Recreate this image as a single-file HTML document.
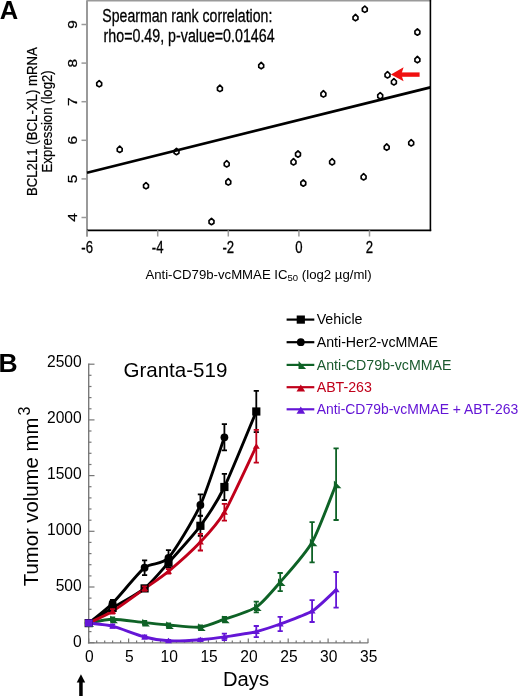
<!DOCTYPE html>
<html><head><meta charset="utf-8"><style>
html,body{margin:0;padding:0;background:#fff;}
svg{display:block;will-change:transform;font-family:'Liberation Sans', sans-serif;}
.pa{stroke:#000;stroke-width:0.3px;}
.pb{stroke:#000;stroke-width:0.2px;}
</style></head><body>
<svg width="520" height="696" viewBox="0 0 520 696">
<rect width="520" height="696" fill="#fff"/>
<line x1="87.0" y1="0.2" x2="87.0" y2="236.5" stroke="#9a9a9a" stroke-width="2"/>
<line x1="87.0" y1="0.8" x2="431.09999999999997" y2="0.8" stroke="#9a9a9a" stroke-width="1.6"/>
<line x1="430.4" y1="0" x2="430.4" y2="231.10000000000002" stroke="#000" stroke-width="1.6"/>
<line x1="87.0" y1="230.3" x2="431.2" y2="230.3" stroke="#000" stroke-width="1.8"/>
<line x1="81.5" y1="217.5" x2="87.0" y2="217.5" stroke="#9a9a9a" stroke-width="1.5"/>
<text transform="translate(76.5,217.5) scale(0.86,1) rotate(-90)" font-size="15.5" text-anchor="middle" class="pa">4</text>
<line x1="81.5" y1="178.9" x2="87.0" y2="178.9" stroke="#9a9a9a" stroke-width="1.5"/>
<text transform="translate(76.5,178.9) scale(0.86,1) rotate(-90)" font-size="15.5" text-anchor="middle" class="pa">5</text>
<line x1="81.5" y1="140.3" x2="87.0" y2="140.3" stroke="#9a9a9a" stroke-width="1.5"/>
<text transform="translate(76.5,140.3) scale(0.86,1) rotate(-90)" font-size="15.5" text-anchor="middle" class="pa">6</text>
<line x1="81.5" y1="101.7" x2="87.0" y2="101.7" stroke="#9a9a9a" stroke-width="1.5"/>
<text transform="translate(76.5,101.7) scale(0.86,1) rotate(-90)" font-size="15.5" text-anchor="middle" class="pa">7</text>
<line x1="81.5" y1="63.1" x2="87.0" y2="63.1" stroke="#9a9a9a" stroke-width="1.5"/>
<text transform="translate(76.5,63.1) scale(0.86,1) rotate(-90)" font-size="15.5" text-anchor="middle" class="pa">8</text>
<line x1="81.5" y1="24.5" x2="87.0" y2="24.5" stroke="#9a9a9a" stroke-width="1.5"/>
<text transform="translate(76.5,24.5) scale(0.86,1) rotate(-90)" font-size="15.5" text-anchor="middle" class="pa">9</text>
<line x1="87.1" y1="230.3" x2="87.1" y2="236.5" stroke="#9a9a9a" stroke-width="1.5"/>
<text transform="translate(87.1,252.6) scale(0.82,1)" font-size="16" text-anchor="middle" class="pa">-6</text>
<line x1="157.7" y1="230.3" x2="157.7" y2="236.5" stroke="#9a9a9a" stroke-width="1.5"/>
<text transform="translate(157.7,252.6) scale(0.82,1)" font-size="16" text-anchor="middle" class="pa">-4</text>
<line x1="228.3" y1="230.3" x2="228.3" y2="236.5" stroke="#9a9a9a" stroke-width="1.5"/>
<text transform="translate(228.3,252.6) scale(0.82,1)" font-size="16" text-anchor="middle" class="pa">-2</text>
<line x1="298.9" y1="230.3" x2="298.9" y2="236.5" stroke="#9a9a9a" stroke-width="1.5"/>
<text transform="translate(298.9,252.6) scale(0.82,1)" font-size="16" text-anchor="middle" class="pa">0</text>
<line x1="369.5" y1="230.3" x2="369.5" y2="236.5" stroke="#9a9a9a" stroke-width="1.5"/>
<text transform="translate(369.5,252.6) scale(0.82,1)" font-size="16" text-anchor="middle" class="pa">2</text>
<line x1="87" y1="172.7" x2="430.4" y2="87.4" stroke="#000" stroke-width="2.7"/>
<path d="M99.2,80.5 L101.7,82.9 L101.6,85.5 L99.2,86.9 L96.8,85.5 L96.7,82.9 Z" fill="none" stroke="#000" stroke-width="1.65" stroke-linejoin="round"/>
<path d="M119.7,146.1 L122.2,148.5 L122.1,151.1 L119.7,152.5 L117.3,151.1 L117.2,148.5 Z" fill="none" stroke="#000" stroke-width="1.65" stroke-linejoin="round"/>
<path d="M176.5,148.3 L179.0,150.7 L178.9,153.3 L176.5,154.7 L174.1,153.3 L174.0,150.7 Z" fill="none" stroke="#000" stroke-width="1.65" stroke-linejoin="round"/>
<path d="M146.0,182.5 L148.5,184.9 L148.4,187.5 L146.0,188.9 L143.6,187.5 L143.5,184.9 Z" fill="none" stroke="#000" stroke-width="1.65" stroke-linejoin="round"/>
<path d="M261.2,62.4 L263.7,64.8 L263.6,67.4 L261.2,68.8 L258.8,67.4 L258.7,64.8 Z" fill="none" stroke="#000" stroke-width="1.65" stroke-linejoin="round"/>
<path d="M219.9,85.2 L222.4,87.6 L222.3,90.2 L219.9,91.6 L217.5,90.2 L217.4,87.6 Z" fill="none" stroke="#000" stroke-width="1.65" stroke-linejoin="round"/>
<path d="M226.7,160.6 L229.2,163.0 L229.1,165.6 L226.7,167.0 L224.3,165.6 L224.2,163.0 Z" fill="none" stroke="#000" stroke-width="1.65" stroke-linejoin="round"/>
<path d="M228.3,178.7 L230.8,181.1 L230.7,183.7 L228.3,185.1 L225.9,183.7 L225.8,181.1 Z" fill="none" stroke="#000" stroke-width="1.65" stroke-linejoin="round"/>
<path d="M211.5,218.3 L214.0,220.7 L213.9,223.3 L211.5,224.7 L209.1,223.3 L209.0,220.7 Z" fill="none" stroke="#000" stroke-width="1.65" stroke-linejoin="round"/>
<path d="M293.5,158.6 L296.0,161.0 L295.9,163.6 L293.5,165.0 L291.1,163.6 L291.0,161.0 Z" fill="none" stroke="#000" stroke-width="1.65" stroke-linejoin="round"/>
<path d="M298.0,150.8 L300.5,153.2 L300.4,155.8 L298.0,157.2 L295.6,155.8 L295.5,153.2 Z" fill="none" stroke="#000" stroke-width="1.65" stroke-linejoin="round"/>
<path d="M303.3,179.8 L305.8,182.2 L305.7,184.8 L303.3,186.2 L300.9,184.8 L300.8,182.2 Z" fill="none" stroke="#000" stroke-width="1.65" stroke-linejoin="round"/>
<path d="M332.1,158.6 L334.6,161.0 L334.5,163.6 L332.1,165.0 L329.7,163.6 L329.6,161.0 Z" fill="none" stroke="#000" stroke-width="1.65" stroke-linejoin="round"/>
<path d="M363.6,173.6 L366.1,176.0 L366.0,178.6 L363.6,180.0 L361.2,178.6 L361.1,176.0 Z" fill="none" stroke="#000" stroke-width="1.65" stroke-linejoin="round"/>
<path d="M386.7,143.9 L389.2,146.3 L389.1,148.9 L386.7,150.3 L384.3,148.9 L384.2,146.3 Z" fill="none" stroke="#000" stroke-width="1.65" stroke-linejoin="round"/>
<path d="M411.2,139.6 L413.7,142.0 L413.6,144.6 L411.2,146.0 L408.8,144.6 L408.7,142.0 Z" fill="none" stroke="#000" stroke-width="1.65" stroke-linejoin="round"/>
<path d="M364.8,6.0 L367.3,8.4 L367.2,11.0 L364.8,12.4 L362.4,11.0 L362.3,8.4 Z" fill="none" stroke="#000" stroke-width="1.65" stroke-linejoin="round"/>
<path d="M355.5,14.4 L358.0,16.8 L357.9,19.4 L355.5,20.8 L353.1,19.4 L353.0,16.8 Z" fill="none" stroke="#000" stroke-width="1.65" stroke-linejoin="round"/>
<path d="M417.4,28.8 L419.9,31.2 L419.8,33.8 L417.4,35.2 L415.0,33.8 L414.9,31.2 Z" fill="none" stroke="#000" stroke-width="1.65" stroke-linejoin="round"/>
<path d="M417.4,56.4 L419.9,58.8 L419.8,61.4 L417.4,62.8 L415.0,61.4 L414.9,58.8 Z" fill="none" stroke="#000" stroke-width="1.65" stroke-linejoin="round"/>
<path d="M387.5,71.6 L390.0,74.0 L389.9,76.6 L387.5,78.0 L385.1,76.6 L385.0,74.0 Z" fill="none" stroke="#000" stroke-width="1.65" stroke-linejoin="round"/>
<path d="M393.9,78.6 L396.4,81.0 L396.3,83.6 L393.9,85.0 L391.5,83.6 L391.4,81.0 Z" fill="none" stroke="#000" stroke-width="1.65" stroke-linejoin="round"/>
<path d="M323.4,90.7 L325.9,93.1 L325.8,95.7 L323.4,97.1 L321.0,95.7 L320.9,93.1 Z" fill="none" stroke="#000" stroke-width="1.65" stroke-linejoin="round"/>
<path d="M380.2,92.5 L382.7,94.9 L382.6,97.5 L380.2,98.9 L377.8,97.5 L377.7,94.9 Z" fill="none" stroke="#000" stroke-width="1.65" stroke-linejoin="round"/>
<line x1="400" y1="74.6" x2="419.6" y2="74.6" stroke="#f01010" stroke-width="4.4"/>
<path d="M390.9,74.5 L403.6,67.3 L401.2,74.5 L403.6,81.3 Z" fill="#f01010"/>
<text x="102.3" y="21.9" font-size="18" text-anchor="start" fill="#000" font-weight="normal" textLength="170" lengthAdjust="spacingAndGlyphs" class="pa">Spearman rank correlation:</text>
<text x="103.6" y="41.9" font-size="18" text-anchor="start" fill="#000" font-weight="normal" textLength="171" lengthAdjust="spacingAndGlyphs" class="pa">rho=0.49, p-value=0.01464</text>
<text x="-0.3" y="19.0" font-size="25.5" text-anchor="start" fill="#000" font-weight="bold">A</text>
<text transform="translate(36.7,121.6) rotate(-90)" font-size="14" text-anchor="middle" textLength="149" lengthAdjust="spacingAndGlyphs" class="pb">BCL2L1 (BCL-XL) mRNA</text>
<text transform="translate(51.9,121.4) rotate(-90)" font-size="14" text-anchor="middle" textLength="102" lengthAdjust="spacingAndGlyphs" class="pb">Expression (log2)</text>
<text x="145.4" y="279" font-size="13.2">Anti-CD79b-vcMMAE IC<tspan font-size="9.5" dy="2.2">50</tspan><tspan dy="-2.2"> (log2 µg/ml)</tspan></text>
<line x1="88.7" y1="363.5" x2="88.7" y2="643.6" stroke="#767676" stroke-width="1.35"/>
<line x1="88.7" y1="642.7" x2="94.5" y2="642.7" stroke="#767676" stroke-width="1.2"/>
<text x="81.7" y="647.1" font-size="15.6" text-anchor="end">0</text>
<line x1="88.7" y1="631.6" x2="91.5" y2="631.6" stroke="#767676" stroke-width="1.2"/>
<line x1="88.7" y1="620.4" x2="91.5" y2="620.4" stroke="#767676" stroke-width="1.2"/>
<line x1="88.7" y1="609.3" x2="91.5" y2="609.3" stroke="#767676" stroke-width="1.2"/>
<line x1="88.7" y1="598.1" x2="91.5" y2="598.1" stroke="#767676" stroke-width="1.2"/>
<line x1="88.7" y1="587.0" x2="94.5" y2="587.0" stroke="#767676" stroke-width="1.2"/>
<text x="81.7" y="591.0" font-size="15.6" text-anchor="end">500</text>
<line x1="88.7" y1="575.9" x2="91.5" y2="575.9" stroke="#767676" stroke-width="1.2"/>
<line x1="88.7" y1="564.7" x2="91.5" y2="564.7" stroke="#767676" stroke-width="1.2"/>
<line x1="88.7" y1="553.6" x2="91.5" y2="553.6" stroke="#767676" stroke-width="1.2"/>
<line x1="88.7" y1="542.4" x2="91.5" y2="542.4" stroke="#767676" stroke-width="1.2"/>
<line x1="88.7" y1="531.3" x2="94.5" y2="531.3" stroke="#767676" stroke-width="1.2"/>
<text x="81.7" y="534.9" font-size="15.6" text-anchor="end">1000</text>
<line x1="88.7" y1="520.2" x2="91.5" y2="520.2" stroke="#767676" stroke-width="1.2"/>
<line x1="88.7" y1="509.0" x2="91.5" y2="509.0" stroke="#767676" stroke-width="1.2"/>
<line x1="88.7" y1="497.9" x2="91.5" y2="497.9" stroke="#767676" stroke-width="1.2"/>
<line x1="88.7" y1="486.7" x2="91.5" y2="486.7" stroke="#767676" stroke-width="1.2"/>
<line x1="88.7" y1="475.6" x2="94.5" y2="475.6" stroke="#767676" stroke-width="1.2"/>
<text x="81.7" y="478.8" font-size="15.6" text-anchor="end">1500</text>
<line x1="88.7" y1="464.5" x2="91.5" y2="464.5" stroke="#767676" stroke-width="1.2"/>
<line x1="88.7" y1="453.3" x2="91.5" y2="453.3" stroke="#767676" stroke-width="1.2"/>
<line x1="88.7" y1="442.2" x2="91.5" y2="442.2" stroke="#767676" stroke-width="1.2"/>
<line x1="88.7" y1="431.0" x2="91.5" y2="431.0" stroke="#767676" stroke-width="1.2"/>
<line x1="88.7" y1="419.9" x2="94.5" y2="419.9" stroke="#767676" stroke-width="1.2"/>
<text x="81.7" y="422.7" font-size="15.6" text-anchor="end">2000</text>
<line x1="88.7" y1="408.8" x2="91.5" y2="408.8" stroke="#767676" stroke-width="1.2"/>
<line x1="88.7" y1="397.6" x2="91.5" y2="397.6" stroke="#767676" stroke-width="1.2"/>
<line x1="88.7" y1="386.5" x2="91.5" y2="386.5" stroke="#767676" stroke-width="1.2"/>
<line x1="88.7" y1="375.3" x2="91.5" y2="375.3" stroke="#767676" stroke-width="1.2"/>
<line x1="88.7" y1="364.2" x2="94.5" y2="364.2" stroke="#767676" stroke-width="1.2"/>
<text x="81.7" y="366.6" font-size="15.6" text-anchor="end">2500</text>
<line x1="87.9" y1="642.9" x2="368.2" y2="642.9" stroke="#767676" stroke-width="1.35"/>
<line x1="88.7" y1="642.9" x2="88.7" y2="638.4" stroke="#767676" stroke-width="1.2"/>
<text x="89.4" y="662.2" font-size="15.6" text-anchor="middle">0</text>
<line x1="96.7" y1="642.9" x2="96.7" y2="640.5" stroke="#767676" stroke-width="1.2"/>
<line x1="104.7" y1="642.9" x2="104.7" y2="640.5" stroke="#767676" stroke-width="1.2"/>
<line x1="112.6" y1="642.9" x2="112.6" y2="640.5" stroke="#767676" stroke-width="1.2"/>
<line x1="120.6" y1="642.9" x2="120.6" y2="640.5" stroke="#767676" stroke-width="1.2"/>
<line x1="128.6" y1="642.9" x2="128.6" y2="638.4" stroke="#767676" stroke-width="1.2"/>
<text x="129.3" y="662.2" font-size="15.6" text-anchor="middle">5</text>
<line x1="136.6" y1="642.9" x2="136.6" y2="640.5" stroke="#767676" stroke-width="1.2"/>
<line x1="144.6" y1="642.9" x2="144.6" y2="640.5" stroke="#767676" stroke-width="1.2"/>
<line x1="152.5" y1="642.9" x2="152.5" y2="640.5" stroke="#767676" stroke-width="1.2"/>
<line x1="160.5" y1="642.9" x2="160.5" y2="640.5" stroke="#767676" stroke-width="1.2"/>
<line x1="168.5" y1="642.9" x2="168.5" y2="638.4" stroke="#767676" stroke-width="1.2"/>
<text x="169.2" y="662.2" font-size="15.6" text-anchor="middle">10</text>
<line x1="176.5" y1="642.9" x2="176.5" y2="640.5" stroke="#767676" stroke-width="1.2"/>
<line x1="184.5" y1="642.9" x2="184.5" y2="640.5" stroke="#767676" stroke-width="1.2"/>
<line x1="192.4" y1="642.9" x2="192.4" y2="640.5" stroke="#767676" stroke-width="1.2"/>
<line x1="200.4" y1="642.9" x2="200.4" y2="640.5" stroke="#767676" stroke-width="1.2"/>
<line x1="208.4" y1="642.9" x2="208.4" y2="638.4" stroke="#767676" stroke-width="1.2"/>
<text x="209.1" y="662.2" font-size="15.6" text-anchor="middle">15</text>
<line x1="216.4" y1="642.9" x2="216.4" y2="640.5" stroke="#767676" stroke-width="1.2"/>
<line x1="224.4" y1="642.9" x2="224.4" y2="640.5" stroke="#767676" stroke-width="1.2"/>
<line x1="232.3" y1="642.9" x2="232.3" y2="640.5" stroke="#767676" stroke-width="1.2"/>
<line x1="240.3" y1="642.9" x2="240.3" y2="640.5" stroke="#767676" stroke-width="1.2"/>
<line x1="248.3" y1="642.9" x2="248.3" y2="638.4" stroke="#767676" stroke-width="1.2"/>
<text x="249.0" y="662.2" font-size="15.6" text-anchor="middle">20</text>
<line x1="256.3" y1="642.9" x2="256.3" y2="640.5" stroke="#767676" stroke-width="1.2"/>
<line x1="264.3" y1="642.9" x2="264.3" y2="640.5" stroke="#767676" stroke-width="1.2"/>
<line x1="272.2" y1="642.9" x2="272.2" y2="640.5" stroke="#767676" stroke-width="1.2"/>
<line x1="280.2" y1="642.9" x2="280.2" y2="640.5" stroke="#767676" stroke-width="1.2"/>
<line x1="288.2" y1="642.9" x2="288.2" y2="638.4" stroke="#767676" stroke-width="1.2"/>
<text x="288.9" y="662.2" font-size="15.6" text-anchor="middle">25</text>
<line x1="296.2" y1="642.9" x2="296.2" y2="640.5" stroke="#767676" stroke-width="1.2"/>
<line x1="304.2" y1="642.9" x2="304.2" y2="640.5" stroke="#767676" stroke-width="1.2"/>
<line x1="312.1" y1="642.9" x2="312.1" y2="640.5" stroke="#767676" stroke-width="1.2"/>
<line x1="320.1" y1="642.9" x2="320.1" y2="640.5" stroke="#767676" stroke-width="1.2"/>
<line x1="328.1" y1="642.9" x2="328.1" y2="638.4" stroke="#767676" stroke-width="1.2"/>
<text x="328.8" y="662.2" font-size="15.6" text-anchor="middle">30</text>
<line x1="336.1" y1="642.9" x2="336.1" y2="640.5" stroke="#767676" stroke-width="1.2"/>
<line x1="344.1" y1="642.9" x2="344.1" y2="640.5" stroke="#767676" stroke-width="1.2"/>
<line x1="352.0" y1="642.9" x2="352.0" y2="640.5" stroke="#767676" stroke-width="1.2"/>
<line x1="360.0" y1="642.9" x2="360.0" y2="640.5" stroke="#767676" stroke-width="1.2"/>
<line x1="368.0" y1="642.9" x2="368.0" y2="638.4" stroke="#767676" stroke-width="1.2"/>
<text x="368.7" y="662.2" font-size="15.6" text-anchor="middle">35</text>
<text x="-1.6" y="371.6" font-size="26.5" text-anchor="start" fill="#000" font-weight="bold">B</text>
<text x="123.4" y="377.4" font-size="20.2" text-anchor="start" fill="#000" font-weight="normal" textLength="104" lengthAdjust="spacingAndGlyphs">Granta-519</text>
<text x="223.0" y="685.6" font-size="20" text-anchor="start" fill="#000" font-weight="normal" textLength="46" lengthAdjust="spacingAndGlyphs">Days</text>
<text transform="translate(37.6,586.2) rotate(-90)" font-size="20.8"><tspan textLength="168.5" lengthAdjust="spacingAndGlyphs">Tumor volume mm</tspan><tspan font-size="16" dy="-7.2" dx="2.2">3</tspan></text>
<rect x="79.2" y="681" width="3.5" height="16" fill="#000"/>
<path d="M80.95,674.3 L76.7,682.5 L85.2,682.5 Z" fill="#000"/>
<path d="M88.7,623.1 C91.6,621.3 105.9,612.1 112.6,607.9 C119.3,603.8 137.9,593.9 144.6,588.4 C151.3,583.0 161.8,570.2 168.5,562.7 C175.2,555.2 193.7,534.9 200.4,525.8 C207.1,516.8 217.7,500.7 224.4,487.0 C231.1,473.2 252.4,420.6 256.3,411.5" fill="none" stroke="#000" stroke-width="2.9" stroke-linejoin="round"/>
<path d="M88.7,623.1 C91.6,620.7 105.9,609.8 112.6,603.2 C119.3,596.5 137.9,573.2 144.6,567.7 C151.3,562.3 161.8,565.3 168.5,557.8 C175.2,550.3 193.7,519.5 200.4,505.0 C207.1,490.5 221.5,445.4 224.4,437.3" fill="none" stroke="#000" stroke-width="2.9" stroke-linejoin="round"/>
<path d="M88.7,623.1 C91.6,622.6 105.9,619.2 112.6,619.2 C119.3,619.1 137.9,622.0 144.6,622.6 C151.3,623.3 161.8,624.5 168.5,625.0 C175.2,625.5 193.7,627.8 200.4,627.1 C207.1,626.4 217.7,621.6 224.4,619.2 C231.1,616.8 249.6,611.5 256.3,607.1 C263.0,602.6 273.5,589.9 280.2,582.1 C286.9,574.3 305.4,554.0 312.1,542.2 C318.8,530.5 333.2,491.1 336.1,484.2" fill="none" stroke="#0e6226" stroke-width="2.9" stroke-linejoin="round"/>
<path d="M88.7,623.1 C91.6,621.7 105.9,615.4 112.6,611.3 C119.3,607.2 137.9,593.5 144.6,588.7 C151.3,583.9 161.8,577.0 168.5,571.4 C175.2,565.8 193.7,549.2 200.4,542.1 C207.1,535.0 217.7,523.7 224.4,512.3 C231.1,500.8 252.4,454.2 256.3,446.3" fill="none" stroke="#c0001a" stroke-width="2.9" stroke-linejoin="round"/>
<path d="M88.7,623.1 C91.6,623.5 105.9,624.5 112.6,626.2 C119.3,627.9 137.9,635.3 144.6,637.0 C151.3,638.8 161.8,640.5 168.5,640.8 C175.2,641.1 193.7,640.2 200.4,639.7 C207.1,639.2 217.7,637.9 224.4,636.9 C231.1,635.9 249.6,633.1 256.3,631.6 C263.0,630.0 273.5,626.4 280.2,624.0 C286.9,621.5 305.4,615.2 312.1,611.1 C318.8,607.0 333.2,592.3 336.1,589.8" fill="none" stroke="#6416d6" stroke-width="2.9" stroke-linejoin="round"/>
<rect x="84.6" y="619.0" width="8.2" height="8.2" fill="#000"/>
<path d="M112.6,605.7 V610.2 M110.0,605.7 H115.2 M110.0,610.2 H115.2" stroke="#000" stroke-width="1.8" fill="none"/>
<rect x="108.5" y="603.8" width="8.2" height="8.2" fill="#000"/>
<path d="M144.6,586.2 V590.7 M142.0,586.2 H147.2 M142.0,590.7 H147.2" stroke="#000" stroke-width="1.8" fill="none"/>
<rect x="140.5" y="584.3" width="8.2" height="8.2" fill="#000"/>
<path d="M168.5,557.7 V567.7 M165.9,557.7 H171.1 M165.9,567.7 H171.1" stroke="#000" stroke-width="1.8" fill="none"/>
<rect x="164.4" y="558.6" width="8.2" height="8.2" fill="#000"/>
<path d="M200.4,515.8 V535.9 M197.8,515.8 H203.0 M197.8,535.9 H203.0" stroke="#000" stroke-width="1.8" fill="none"/>
<rect x="196.3" y="521.7" width="8.2" height="8.2" fill="#000"/>
<path d="M224.4,473.8 V500.1 M221.8,473.8 H227.0 M221.8,500.1 H227.0" stroke="#000" stroke-width="1.8" fill="none"/>
<rect x="220.3" y="482.9" width="8.2" height="8.2" fill="#000"/>
<path d="M256.3,390.9 V432.2 M253.7,390.9 H258.9 M253.7,432.2 H258.9" stroke="#000" stroke-width="1.8" fill="none"/>
<rect x="252.2" y="407.4" width="8.2" height="8.2" fill="#000"/>
<circle cx="88.7" cy="623.1" r="3.9" fill="#000"/>
<path d="M112.6,599.8 V606.5 M110.0,599.8 H115.2 M110.0,606.5 H115.2" stroke="#000" stroke-width="1.8" fill="none"/>
<circle cx="112.6" cy="603.2" r="3.9" fill="#000"/>
<path d="M144.6,560.3 V575.2 M142.0,560.3 H147.2 M142.0,575.2 H147.2" stroke="#000" stroke-width="1.8" fill="none"/>
<circle cx="144.6" cy="567.7" r="3.9" fill="#000"/>
<path d="M168.5,550.2 V565.4 M165.9,550.2 H171.1 M165.9,565.4 H171.1" stroke="#000" stroke-width="1.8" fill="none"/>
<circle cx="168.5" cy="557.8" r="3.9" fill="#000"/>
<path d="M200.4,494.4 V515.6 M197.8,494.4 H203.0 M197.8,515.6 H203.0" stroke="#000" stroke-width="1.8" fill="none"/>
<circle cx="200.4" cy="505.0" r="3.9" fill="#000"/>
<path d="M224.4,424.2 V450.3 M221.8,424.2 H227.0 M221.8,450.3 H227.0" stroke="#000" stroke-width="1.8" fill="none"/>
<circle cx="224.4" cy="437.3" r="3.9" fill="#000"/>
<path d="M86.5,619.3 L94.0,627.1 L86.4,627.1 Z" fill="#0e6226"/>
<path d="M112.6,617.5 V620.9 M110.0,617.5 H115.2 M110.0,620.9 H115.2" stroke="#0e6226" stroke-width="1.8" fill="none"/>
<path d="M110.4,615.4 L117.9,623.2 L110.3,623.2 Z" fill="#0e6226"/>
<path d="M144.6,621.0 V624.3 M142.0,621.0 H147.2 M142.0,624.3 H147.2" stroke="#0e6226" stroke-width="1.8" fill="none"/>
<path d="M142.4,618.8 L149.9,626.6 L142.3,626.6 Z" fill="#0e6226"/>
<path d="M168.5,623.3 V626.7 M165.9,623.3 H171.1 M165.9,626.7 H171.1" stroke="#0e6226" stroke-width="1.8" fill="none"/>
<path d="M166.3,621.2 L173.8,629.0 L166.2,629.0 Z" fill="#0e6226"/>
<path d="M200.4,625.4 V628.8 M197.8,625.4 H203.0 M197.8,628.8 H203.0" stroke="#0e6226" stroke-width="1.8" fill="none"/>
<path d="M198.2,623.3 L205.7,631.1 L198.1,631.1 Z" fill="#0e6226"/>
<path d="M224.4,617.0 V621.4 M221.8,617.0 H227.0 M221.8,621.4 H227.0" stroke="#0e6226" stroke-width="1.8" fill="none"/>
<path d="M222.2,615.4 L229.7,623.2 L222.1,623.2 Z" fill="#0e6226"/>
<path d="M256.3,601.7 V612.4 M253.7,601.7 H258.9 M253.7,612.4 H258.9" stroke="#0e6226" stroke-width="1.8" fill="none"/>
<path d="M254.1,603.3 L261.6,611.1 L254.0,611.1 Z" fill="#0e6226"/>
<path d="M280.2,573.0 V591.2 M277.6,573.0 H282.8 M277.6,591.2 H282.8" stroke="#0e6226" stroke-width="1.8" fill="none"/>
<path d="M278.0,578.3 L285.5,586.1 L277.9,586.1 Z" fill="#0e6226"/>
<path d="M312.1,522.2 V562.3 M309.5,522.2 H314.7 M309.5,562.3 H314.7" stroke="#0e6226" stroke-width="1.8" fill="none"/>
<path d="M309.9,538.4 L317.4,546.2 L309.8,546.2 Z" fill="#0e6226"/>
<path d="M336.1,448.3 V520.0 M333.5,448.3 H338.7 M333.5,520.0 H338.7" stroke="#0e6226" stroke-width="1.8" fill="none"/>
<path d="M333.9,480.4 L341.4,488.2 L333.8,488.2 Z" fill="#0e6226"/>
<path d="M88.7,620.1 L92.2,625.5 L85.2,625.5 Z" fill="#c0001a"/>
<path d="M112.6,609.1 V613.5 M110.0,609.1 H115.2 M110.0,613.5 H115.2" stroke="#c0001a" stroke-width="1.8" fill="none"/>
<path d="M112.6,608.3 L116.1,613.7 L109.1,613.7 Z" fill="#c0001a"/>
<path d="M144.6,586.4 V590.9 M142.0,586.4 H147.2 M142.0,590.9 H147.2" stroke="#c0001a" stroke-width="1.8" fill="none"/>
<path d="M144.6,585.7 L148.1,591.1 L141.1,591.1 Z" fill="#c0001a"/>
<path d="M168.5,569.2 V573.6 M165.9,569.2 H171.1 M165.9,573.6 H171.1" stroke="#c0001a" stroke-width="1.8" fill="none"/>
<path d="M168.5,568.4 L172.0,573.8 L165.0,573.8 Z" fill="#c0001a"/>
<path d="M200.4,533.8 V550.5 M197.8,533.8 H203.0 M197.8,550.5 H203.0" stroke="#c0001a" stroke-width="1.8" fill="none"/>
<path d="M200.4,539.1 L203.9,544.5 L196.9,544.5 Z" fill="#c0001a"/>
<path d="M224.4,503.9 V520.6 M221.8,503.9 H227.0 M221.8,520.6 H227.0" stroke="#c0001a" stroke-width="1.8" fill="none"/>
<path d="M224.4,509.3 L227.9,514.7 L220.9,514.7 Z" fill="#c0001a"/>
<path d="M256.3,429.9 V462.7 M253.7,429.9 H258.9 M253.7,462.7 H258.9" stroke="#c0001a" stroke-width="1.8" fill="none"/>
<path d="M256.3,443.3 L259.8,448.7 L252.8,448.7 Z" fill="#c0001a"/>
<path d="M88.7,620.1 L92.2,625.5 L85.2,625.5 Z" fill="#6416d6"/>
<path d="M112.6,624.5 V627.9 M110.0,624.5 H115.2 M110.0,627.9 H115.2" stroke="#6416d6" stroke-width="1.8" fill="none"/>
<path d="M112.6,623.2 L116.1,628.6 L109.1,628.6 Z" fill="#6416d6"/>
<path d="M144.6,635.3 V638.7 M142.0,635.3 H147.2 M142.0,638.7 H147.2" stroke="#6416d6" stroke-width="1.8" fill="none"/>
<path d="M144.6,634.0 L148.1,639.4 L141.1,639.4 Z" fill="#6416d6"/>
<path d="M168.5,639.9 V641.7 M165.9,639.9 H171.1 M165.9,641.7 H171.1" stroke="#6416d6" stroke-width="1.8" fill="none"/>
<path d="M168.5,637.8 L172.0,643.2 L165.0,643.2 Z" fill="#6416d6"/>
<path d="M200.4,638.6 V640.8 M197.8,638.6 H203.0 M197.8,640.8 H203.0" stroke="#6416d6" stroke-width="1.8" fill="none"/>
<path d="M200.4,636.7 L203.9,642.1 L196.9,642.1 Z" fill="#6416d6"/>
<path d="M224.4,633.6 V640.2 M221.8,633.6 H227.0 M221.8,640.2 H227.0" stroke="#6416d6" stroke-width="1.8" fill="none"/>
<path d="M224.4,633.9 L227.9,639.3 L220.9,639.3 Z" fill="#6416d6"/>
<path d="M256.3,626.0 V637.1 M253.7,626.0 H258.9 M253.7,637.1 H258.9" stroke="#6416d6" stroke-width="1.8" fill="none"/>
<path d="M256.3,628.6 L259.8,634.0 L252.8,634.0 Z" fill="#6416d6"/>
<path d="M280.2,616.9 V631.1 M277.6,616.9 H282.8 M277.6,631.1 H282.8" stroke="#6416d6" stroke-width="1.8" fill="none"/>
<path d="M280.2,621.0 L283.7,626.4 L276.7,626.4 Z" fill="#6416d6"/>
<path d="M312.1,600.1 V622.0 M309.5,600.1 H314.7 M309.5,622.0 H314.7" stroke="#6416d6" stroke-width="1.8" fill="none"/>
<path d="M312.1,608.1 L315.6,613.5 L308.6,613.5 Z" fill="#6416d6"/>
<path d="M336.1,572.0 V607.6 M333.5,572.0 H338.7 M333.5,607.6 H338.7" stroke="#6416d6" stroke-width="1.8" fill="none"/>
<path d="M336.1,586.8 L339.6,592.2 L332.6,592.2 Z" fill="#6416d6"/>
<rect x="85" y="619.4" width="7.7" height="7.2" fill="#6416d6"/>
<line x1="286.6" y1="319.6" x2="314.3" y2="319.6" stroke="#000" stroke-width="2.2"/>
<rect x="296.7" y="315.5" width="8.2" height="8.2" fill="#000"/>
<text x="316.7" y="324.40000000000003" font-size="14.2" text-anchor="start" fill="#000" font-weight="normal">Vehicle</text>
<line x1="286.6" y1="342.2" x2="314.3" y2="342.2" stroke="#000" stroke-width="2.2"/>
<circle cx="300.8" cy="342.2" r="3.9" fill="#000"/>
<text x="316.7" y="347.0" font-size="14.2" text-anchor="start" fill="#000" font-weight="normal">Anti-Her2-vcMMAE</text>
<line x1="286.6" y1="364.9" x2="314.3" y2="364.9" stroke="#0e6226" stroke-width="2.2"/>
<path d="M298.6,361.1 L306.1,368.9 L298.5,368.9 Z" fill="#0e6226"/>
<text x="316.7" y="369.7" font-size="14.2" text-anchor="start" fill="#1a5a2e" font-weight="normal">Anti-CD79b-vcMMAE</text>
<line x1="286.6" y1="387.2" x2="314.3" y2="387.2" stroke="#c0001a" stroke-width="2.2"/>
<path d="M300.8,384.4 L305.1,391.6 L296.5,391.6 Z" fill="#c0001a"/>
<text x="316.7" y="392.0" font-size="14.2" text-anchor="start" fill="#c0001a" font-weight="normal">ABT-263</text>
<line x1="286.6" y1="409.3" x2="314.3" y2="409.3" stroke="#6416d6" stroke-width="2.2"/>
<path d="M300.8,406.5 L305.1,413.7 L296.5,413.7 Z" fill="#6416d6"/>
<text x="316.7" y="414.1" font-size="14.2" text-anchor="start" fill="#6416d6" font-weight="normal" textLength="201.5" lengthAdjust="spacingAndGlyphs">Anti-CD79b-vcMMAE + ABT-263</text>
</svg>
</body></html>
